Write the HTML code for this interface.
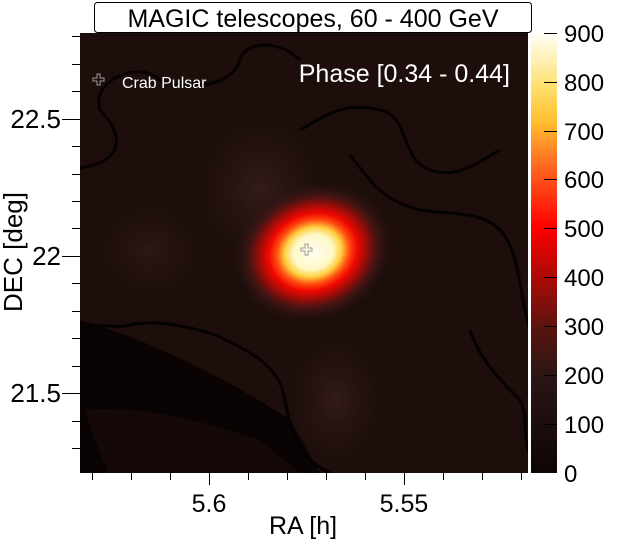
<!DOCTYPE html>
<html><head><meta charset="utf-8"><style>
body{margin:0;background:#fff;width:622px;height:544px;overflow:hidden}
svg text{font-family:"Liberation Sans",sans-serif}
</style></head><body>
<svg width="622" height="544" viewBox="0 0 622 544">
<defs>
<radialGradient id="blob" cx="0.5" cy="0.5" r="0.5">
<stop offset="0" stop-color="#fffdf0"/>
<stop offset="0.25" stop-color="#fff8c8"/>
<stop offset="0.36" stop-color="#ffd040"/>
<stop offset="0.46" stop-color="#ff5010"/>
<stop offset="0.56" stop-color="#f00800"/>
<stop offset="0.68" stop-color="#a00c08"/>
<stop offset="0.82" stop-color="#4a1614" stop-opacity="0.8"/>
<stop offset="1" stop-color="#2e1614" stop-opacity="0"/>
</radialGradient>
<radialGradient id="glow" cx="0.5" cy="0.5" r="0.5">
<stop offset="0" stop-color="#331c1a"/>
<stop offset="1" stop-color="#2a1614" stop-opacity="0"/>
</radialGradient>
<linearGradient id="cb" x1="0" y1="1" x2="0" y2="0">
<stop offset="0" stop-color="#0e0505"/>
<stop offset="0.22" stop-color="#2a1614"/>
<stop offset="0.33" stop-color="#5a1410"/>
<stop offset="0.45" stop-color="#b00a05"/>
<stop offset="0.56" stop-color="#ff0000"/>
<stop offset="0.7" stop-color="#ff6a20"/>
<stop offset="0.8" stop-color="#ffc030"/>
<stop offset="0.88" stop-color="#ffe070"/>
<stop offset="1" stop-color="#fffff8"/>
</linearGradient>
<clipPath id="pc"><rect x="80" y="33" width="448" height="440"/></clipPath>
</defs>
<g clip-path="url(#pc)">
<rect x="80" y="33" width="448" height="440" fill="#1d0e0c"/>
<path d="M80 320 C150 340 230 380 290 420 L320 473 L80 473 Z" fill="#090303"/>
<path d="M85 410 C140 405 200 420 260 440 L300 473 L108 473 C100 450 90 430 85 410 Z" fill="#140908"/>
<ellipse cx="260" cy="190" rx="60" ry="70" fill="url(#glow)"/>
<ellipse cx="335" cy="400" rx="45" ry="60" fill="url(#glow)"/>
<ellipse cx="150" cy="250" rx="50" ry="45" fill="url(#glow)" opacity="0.7"/>
<g fill="none" stroke="#060202" stroke-width="3">
<path d="M80 168 C130 160 120 130 100 110 C90 80 140 60 160 80 C180 90 230 90 240 60 C245 40 280 40 300 60"/>
<path d="M80 330 C100 320 110 330 130 325 C160 318 200 330 215 335 C260 355 280 370 285 400 C290 430 300 460 330 473"/>
<path d="M350 155 C370 180 380 200 420 210 C450 215 480 210 500 230 C520 250 520 300 530 330"/>
<path d="M300 130 C320 120 340 100 380 110 C410 115 400 160 430 170 C460 180 480 160 500 150"/>
<path d="M470 330 C480 360 500 380 520 400 C530 420 520 440 533 460"/>
</g>
<ellipse cx="313" cy="252" rx="80" ry="68" transform="rotate(-20 313 252)" fill="url(#blob)"/>
</g>
<g fill="none" stroke="#999" stroke-width="1">
<path d="M301 248h4v-4h3v4h4v3h-4v4h-3v-4h-4z"/>
<path d="M93 78h4v-4h3v4h4v3h-4v4h-3v-4h-4z"/>
</g>
<text x="122" y="88" font-size="16" fill="#fff">Crab Pulsar</text>
<text x="510" y="82" font-size="25" fill="#fff" text-anchor="end">Phase [0.34 - 0.44]</text>
<rect x="94.5" y="2.5" width="437" height="30" rx="3" fill="#fff" stroke="#000"/>
<text x="313" y="27" font-size="25" text-anchor="middle">MAGIC telescopes, 60 - 400 GeV</text>
<rect x="531" y="33" width="26" height="440" fill="url(#cb)"/>
<g stroke="#000" stroke-width="1">
<line x1="544" y1="33.5" x2="557" y2="33.5"/><line x1="544" y1="82.5" x2="557" y2="82.5"/>
<line x1="544" y1="131.5" x2="557" y2="131.5"/><line x1="544" y1="179.5" x2="557" y2="179.5"/>
<line x1="544" y1="228.5" x2="557" y2="228.5"/><line x1="544" y1="277.5" x2="557" y2="277.5"/>
<line x1="544" y1="326.5" x2="557" y2="326.5"/><line x1="544" y1="375.5" x2="557" y2="375.5"/>
<line x1="544" y1="424.5" x2="557" y2="424.5"/>
</g>
<g font-size="24" fill="#000">
<text x="564" y="42">900</text><text x="564" y="91">800</text><text x="564" y="140">700</text>
<text x="564" y="188">600</text><text x="564" y="237">500</text><text x="564" y="286">400</text>
<text x="564" y="335">300</text><text x="564" y="384">200</text><text x="564" y="433">100</text>
<text x="564" y="482">0</text>
</g>
<g stroke="#000" stroke-width="1">
<line x1="72" y1="36.5" x2="80" y2="36.5"/><line x1="72" y1="64.5" x2="80" y2="64.5"/><line x1="72" y1="91.5" x2="80" y2="91.5"/>
<line x1="62" y1="119.5" x2="80" y2="119.5"/>
<line x1="72" y1="146.5" x2="80" y2="146.5"/><line x1="72" y1="174.5" x2="80" y2="174.5"/><line x1="72" y1="201.5" x2="80" y2="201.5"/><line x1="72" y1="228.5" x2="80" y2="228.5"/>
<line x1="62" y1="256.5" x2="80" y2="256.5"/>
<line x1="72" y1="283.5" x2="80" y2="283.5"/><line x1="72" y1="311.5" x2="80" y2="311.5"/><line x1="72" y1="338.5" x2="80" y2="338.5"/><line x1="72" y1="366.5" x2="80" y2="366.5"/>
<line x1="62" y1="393.5" x2="80" y2="393.5"/>
<line x1="72" y1="421.5" x2="80" y2="421.5"/><line x1="72" y1="448.5" x2="80" y2="448.5"/>
</g>
<g font-size="26" text-anchor="end">
<text x="61" y="128">22.5</text><text x="61" y="265">22</text><text x="61" y="402">21.5</text>
</g>
<text transform="translate(22 252) rotate(-90)" font-size="26" text-anchor="middle">DEC [deg]</text>
<g stroke="#000" stroke-width="1">
<line x1="92.5" y1="473" x2="92.5" y2="480"/><line x1="131.5" y1="473" x2="131.5" y2="480"/><line x1="170.5" y1="473" x2="170.5" y2="480"/>
<line x1="209.5" y1="473" x2="209.5" y2="485"/>
<line x1="248.5" y1="473" x2="248.5" y2="480"/><line x1="287.5" y1="473" x2="287.5" y2="480"/><line x1="326.5" y1="473" x2="326.5" y2="480"/><line x1="365.5" y1="473" x2="365.5" y2="480"/>
<line x1="404.5" y1="473" x2="404.5" y2="485"/>
<line x1="443.5" y1="473" x2="443.5" y2="480"/><line x1="482.5" y1="473" x2="482.5" y2="480"/><line x1="521.5" y1="473" x2="521.5" y2="480"/>
</g>
<g font-size="25" text-anchor="middle">
<text x="209" y="512">5.6</text><text x="404" y="512">5.55</text>
</g>
<text x="303" y="534" font-size="25" text-anchor="middle">RA [h]</text>
</svg>
</body></html>
